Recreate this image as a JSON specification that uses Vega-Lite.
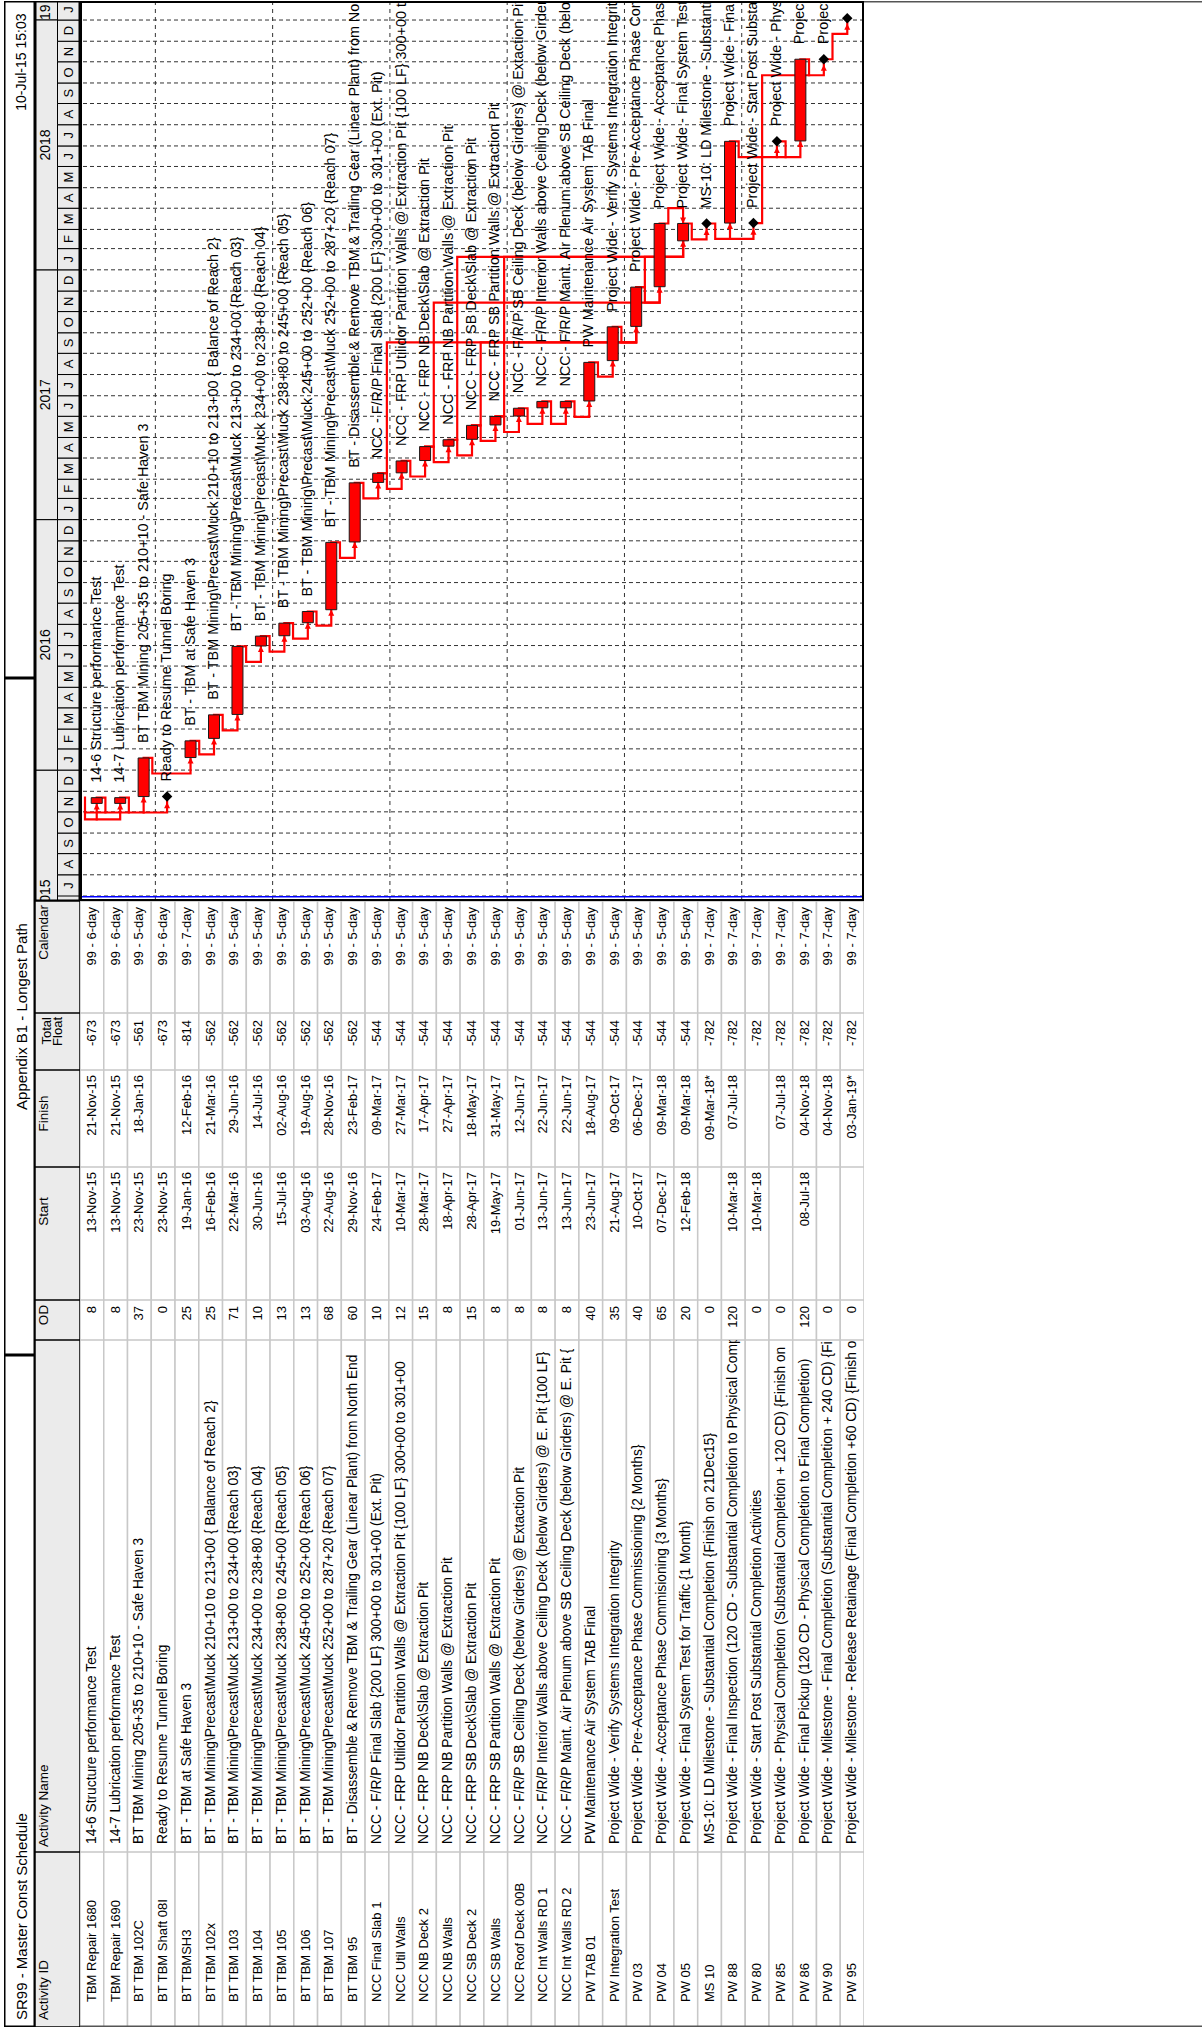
{
  "$schema": "https://vega.github.io/schema/vega-lite/v6.json",
  "padding": {"left": 4, "top": 1, "right": 0, "bottom": 0},
  "background": "white",
  "spacing": 0,
  "config": {"view": {"stroke": null}, "font": "Liberation Sans", "concat": {"spacing": 0}},
  "datasets": {
    "acts": [
      {"n":1,"id":"TBM Repair 1680","name":"14-6 Structure performance Test","od":8,"st":"13-Nov-15","fi":"21-Nov-15","tf":-673,"cal":"99 - 6-day","s":"2015-11-13T08:00","f":"2015-11-21T17:00"},
      {"n":2,"id":"TBM Repair 1690","name":"14-7 Lubrication performance Test","od":8,"st":"13-Nov-15","fi":"21-Nov-15","tf":-673,"cal":"99 - 6-day","s":"2015-11-13T08:00","f":"2015-11-21T17:00"},
      {"n":3,"id":"BT TBM 102C","name":"BT TBM Mining 205+35 to 210+10 - Safe Haven 3","od":37,"st":"23-Nov-15","fi":"18-Jan-16","tf":-561,"cal":"99 - 5-day","s":"2015-11-23T08:00","f":"2016-01-18T17:00"},
      {"n":4,"id":"BT TBM Shaft 08I","name":"Ready to Resume Tunnel Boring","od":0,"st":"23-Nov-15","fi":"","tf":-673,"cal":"99 - 6-day","s":"2015-11-23T08:00","f":null},
      {"n":5,"id":"BT TBMSH3","name":"BT - TBM at Safe Haven 3","od":25,"st":"19-Jan-16","fi":"12-Feb-16","tf":-814,"cal":"99 - 7-day","s":"2016-01-19T08:00","f":"2016-02-12T17:00"},
      {"n":6,"id":"BT TBM 102x","name":"BT - TBM Mining\\Precast\\Muck 210+10 to 213+00 { Balance of Reach 2}","od":25,"st":"16-Feb-16","fi":"21-Mar-16","tf":-562,"cal":"99 - 5-day","s":"2016-02-16T08:00","f":"2016-03-21T17:00"},
      {"n":7,"id":"BT TBM 103","name":"BT - TBM Mining\\Precast\\Muck  213+00 to 234+00 {Reach 03}","od":71,"st":"22-Mar-16","fi":"29-Jun-16","tf":-562,"cal":"99 - 5-day","s":"2016-03-22T08:00","f":"2016-06-29T17:00"},
      {"n":8,"id":"BT TBM 104","name":"BT - TBM Mining\\Precast\\Muck 234+00 to 238+80   {Reach 04}","od":10,"st":"30-Jun-16","fi":"14-Jul-16","tf":-562,"cal":"99 - 5-day","s":"2016-06-30T08:00","f":"2016-07-14T17:00"},
      {"n":9,"id":"BT TBM 105","name":"BT - TBM Mining\\Precast\\Muck 238+80 to 245+00  {Reach 05}","od":13,"st":"15-Jul-16","fi":"02-Aug-16","tf":-562,"cal":"99 - 5-day","s":"2016-07-15T08:00","f":"2016-08-02T17:00"},
      {"n":10,"id":"BT TBM 106","name":"BT - TBM Mining\\Precast\\Muck  245+00 to 252+00  {Reach 06}","od":13,"st":"03-Aug-16","fi":"19-Aug-16","tf":-562,"cal":"99 - 5-day","s":"2016-08-03T08:00","f":"2016-08-19T17:00"},
      {"n":11,"id":"BT TBM 107","name":"BT - TBM Mining\\Precast\\Muck  252+00 to 287+20  {Reach 07}","od":68,"st":"22-Aug-16","fi":"28-Nov-16","tf":-562,"cal":"99 - 5-day","s":"2016-08-22T08:00","f":"2016-11-28T17:00"},
      {"n":12,"id":"BT TBM 95","name":"BT - Disassemble & Remove TBM & Trailing Gear (Linear Plant) from North End","od":60,"st":"29-Nov-16","fi":"23-Feb-17","tf":-562,"cal":"99 - 5-day","s":"2016-11-29T08:00","f":"2017-02-23T17:00"},
      {"n":13,"id":"NCC Final Slab 1","name":"NCC - F/R/P Final Slab  {200 LF}  300+00 to 301+00 (Ext. Pit)","od":10,"st":"24-Feb-17","fi":"09-Mar-17","tf":-544,"cal":"99 - 5-day","s":"2017-02-24T08:00","f":"2017-03-09T17:00"},
      {"n":14,"id":"NCC Util Walls","name":"NCC - FRP Utilidor Partition Walls @ Extraction Pit  {100 LF} 300+00 to 301+00","od":12,"st":"10-Mar-17","fi":"27-Mar-17","tf":-544,"cal":"99 - 5-day","s":"2017-03-10T08:00","f":"2017-03-27T17:00"},
      {"n":15,"id":"NCC NB Deck 2","name":"NCC - FRP NB Deck\\Slab @ Extraction Pit","od":15,"st":"28-Mar-17","fi":"17-Apr-17","tf":-544,"cal":"99 - 5-day","s":"2017-03-28T08:00","f":"2017-04-17T17:00"},
      {"n":16,"id":"NCC NB Walls","name":"NCC - FRP NB Partition Walls @ Extraction Pit","od":8,"st":"18-Apr-17","fi":"27-Apr-17","tf":-544,"cal":"99 - 5-day","s":"2017-04-18T08:00","f":"2017-04-27T17:00"},
      {"n":17,"id":"NCC SB Deck 2","name":"NCC - FRP SB Deck\\Slab @ Extraction Pit","od":15,"st":"28-Apr-17","fi":"18-May-17","tf":-544,"cal":"99 - 5-day","s":"2017-04-28T08:00","f":"2017-05-18T17:00"},
      {"n":18,"id":"NCC SB Walls","name":"NCC - FRP SB Partition Walls @ Extraction Pit","od":8,"st":"19-May-17","fi":"31-May-17","tf":-544,"cal":"99 - 5-day","s":"2017-05-19T08:00","f":"2017-05-31T17:00"},
      {"n":19,"id":"NCC Roof Deck 00B","name":"NCC - F/R/P  SB Ceiling Deck (below Girders)  @ Extaction Pit","od":8,"st":"01-Jun-17","fi":"12-Jun-17","tf":-544,"cal":"99 - 5-day","s":"2017-06-01T08:00","f":"2017-06-12T17:00"},
      {"n":20,"id":"NCC Int Walls RD 1","name":"NCC - F/R/P  Interior Walls  above Ceiling Deck (below Girders) @ E. Pit  {100 LF}","od":8,"st":"13-Jun-17","fi":"22-Jun-17","tf":-544,"cal":"99 - 5-day","s":"2017-06-13T08:00","f":"2017-06-22T17:00"},
      {"n":21,"id":"NCC Int Walls RD 2","name":"NCC - F/R/P  Maint. Air Plenum  above SB Ceiling Deck (below Girders) @ E. Pit  {","od":8,"st":"13-Jun-17","fi":"22-Jun-17","tf":-544,"cal":"99 - 5-day","s":"2017-06-13T08:00","f":"2017-06-22T17:00"},
      {"n":22,"id":"PW TAB 01","name":"PW Maintenance Air System TAB Final","od":40,"st":"23-Jun-17","fi":"18-Aug-17","tf":-544,"cal":"99 - 5-day","s":"2017-06-23T08:00","f":"2017-08-18T17:00"},
      {"n":23,"id":"PW Integration Test","name":"Project Wide - Verify Systems Integration Integrity","od":35,"st":"21-Aug-17","fi":"09-Oct-17","tf":-544,"cal":"99 - 5-day","s":"2017-08-21T08:00","f":"2017-10-09T17:00"},
      {"n":24,"id":"PW 03","name":"Project Wide - Pre-Acceptance Phase Commissioning  {2 Months}","od":40,"st":"10-Oct-17","fi":"06-Dec-17","tf":-544,"cal":"99 - 5-day","s":"2017-10-10T08:00","f":"2017-12-06T17:00"},
      {"n":25,"id":"PW 04","name":"Project Wide - Acceptance Phase Commisioning  {3 Months}","od":65,"st":"07-Dec-17","fi":"09-Mar-18","tf":-544,"cal":"99 - 5-day","s":"2017-12-07T08:00","f":"2018-03-09T17:00"},
      {"n":26,"id":"PW 05","name":"Project Wide - Final System Test for Traffic  {1 Month}","od":20,"st":"12-Feb-18","fi":"09-Mar-18","tf":-544,"cal":"99 - 5-day","s":"2018-02-12T08:00","f":"2018-03-09T17:00"},
      {"n":27,"id":"MS 10","name":"MS-10:  LD Milestone - Substantial Completion  {Finish on 21Dec15}","od":0,"st":"","fi":"09-Mar-18*","tf":-782,"cal":"99 - 7-day","s":null,"f":"2018-03-09T17:00"},
      {"n":28,"id":"PW 88","name":"Project Wide - Final Inspection  (120 CD - Substantial Completion to Physical Comp","od":120,"st":"10-Mar-18","fi":"07-Jul-18","tf":-782,"cal":"99 - 7-day","s":"2018-03-10T08:00","f":"2018-07-07T17:00"},
      {"n":29,"id":"PW 80","name":"Project Wide - Start Post Substantial Completion Activities","od":0,"st":"10-Mar-18","fi":"","tf":-782,"cal":"99 - 7-day","s":"2018-03-10T08:00","f":null},
      {"n":30,"id":"PW 85","name":"Project Wide - Physical Completion  (Substantial Completion + 120 CD)  {Finish on","od":0,"st":"","fi":"07-Jul-18","tf":-782,"cal":"99 - 7-day","s":null,"f":"2018-07-07T17:00"},
      {"n":31,"id":"PW 86","name":"Project Wide - Final Pickup (120 CD - Physical Completion to Final Completion)","od":120,"st":"08-Jul-18","fi":"04-Nov-18","tf":-782,"cal":"99 - 7-day","s":"2018-07-08T08:00","f":"2018-11-04T17:00"},
      {"n":32,"id":"PW 90","name":"Project Wide - Milestone - Final Completion  (Substantial Completion + 240 CD)  {Fi","od":0,"st":"","fi":"04-Nov-18","tf":-782,"cal":"99 - 7-day","s":null,"f":"2018-11-04T17:00"},
      {"n":33,"id":"PW 95","name":"Project Wide - Milestone - Release Retainage (Final Completion +60 CD)  {Finish o","od":0,"st":"","fi":"03-Jan-19*","tf":-782,"cal":"99 - 7-day","s":null,"f":"2019-01-03T17:00"}
    ],
    "months": [
      {"m":"2015-07-01T00:00","m2":"2015-08-01T00:00","l":"J"},{"m":"2015-08-01T00:00","m2":"2015-09-01T00:00","l":"A"},{"m":"2015-09-01T00:00","m2":"2015-10-01T00:00","l":"S"},{"m":"2015-10-01T00:00","m2":"2015-11-01T00:00","l":"O"},{"m":"2015-11-01T00:00","m2":"2015-12-01T00:00","l":"N"},{"m":"2015-12-01T00:00","m2":"2016-01-01T00:00","l":"D"},
      {"m":"2016-01-01T00:00","m2":"2016-02-01T00:00","l":"J"},{"m":"2016-02-01T00:00","m2":"2016-03-01T00:00","l":"F"},{"m":"2016-03-01T00:00","m2":"2016-04-01T00:00","l":"M"},{"m":"2016-04-01T00:00","m2":"2016-05-01T00:00","l":"A"},{"m":"2016-05-01T00:00","m2":"2016-06-01T00:00","l":"M"},{"m":"2016-06-01T00:00","m2":"2016-07-01T00:00","l":"J"},{"m":"2016-07-01T00:00","m2":"2016-08-01T00:00","l":"J"},{"m":"2016-08-01T00:00","m2":"2016-09-01T00:00","l":"A"},{"m":"2016-09-01T00:00","m2":"2016-10-01T00:00","l":"S"},{"m":"2016-10-01T00:00","m2":"2016-11-01T00:00","l":"O"},{"m":"2016-11-01T00:00","m2":"2016-12-01T00:00","l":"N"},{"m":"2016-12-01T00:00","m2":"2017-01-01T00:00","l":"D"},
      {"m":"2017-01-01T00:00","m2":"2017-02-01T00:00","l":"J"},{"m":"2017-02-01T00:00","m2":"2017-03-01T00:00","l":"F"},{"m":"2017-03-01T00:00","m2":"2017-04-01T00:00","l":"M"},{"m":"2017-04-01T00:00","m2":"2017-05-01T00:00","l":"A"},{"m":"2017-05-01T00:00","m2":"2017-06-01T00:00","l":"M"},{"m":"2017-06-01T00:00","m2":"2017-07-01T00:00","l":"J"},{"m":"2017-07-01T00:00","m2":"2017-08-01T00:00","l":"J"},{"m":"2017-08-01T00:00","m2":"2017-09-01T00:00","l":"A"},{"m":"2017-09-01T00:00","m2":"2017-10-01T00:00","l":"S"},{"m":"2017-10-01T00:00","m2":"2017-11-01T00:00","l":"O"},{"m":"2017-11-01T00:00","m2":"2017-12-01T00:00","l":"N"},{"m":"2017-12-01T00:00","m2":"2018-01-01T00:00","l":"D"},
      {"m":"2018-01-01T00:00","m2":"2018-02-01T00:00","l":"J"},{"m":"2018-02-01T00:00","m2":"2018-03-01T00:00","l":"F"},{"m":"2018-03-01T00:00","m2":"2018-04-01T00:00","l":"M"},{"m":"2018-04-01T00:00","m2":"2018-05-01T00:00","l":"A"},{"m":"2018-05-01T00:00","m2":"2018-06-01T00:00","l":"M"},{"m":"2018-06-01T00:00","m2":"2018-07-01T00:00","l":"J"},{"m":"2018-07-01T00:00","m2":"2018-08-01T00:00","l":"J"},{"m":"2018-08-01T00:00","m2":"2018-09-01T00:00","l":"A"},{"m":"2018-09-01T00:00","m2":"2018-10-01T00:00","l":"S"},{"m":"2018-10-01T00:00","m2":"2018-11-01T00:00","l":"O"},{"m":"2018-11-01T00:00","m2":"2018-12-01T00:00","l":"N"},{"m":"2018-12-01T00:00","m2":"2019-01-01T00:00","l":"D"},
      {"m":"2019-01-01T00:00","m2":"2019-02-01T00:00","l":"J"}
    ],
    "years": [
      {"yr":"2015-01-01T00:00","yr2":"2016-01-01T00:00","t":"2015"},
      {"yr":"2016-01-01T00:00","yr2":"2017-01-01T00:00","t":"2016"},
      {"yr":"2017-01-01T00:00","yr2":"2018-01-01T00:00","t":"2017"},
      {"yr":"2018-01-01T00:00","yr2":"2019-01-01T00:00","t":"2018"},
      {"yr":"2019-01-01T00:00","yr2":"2020-01-01T00:00","t":"2019"}
    ],
    "sight": [{"b":3.5},{"b":8.5},{"b":13.5},{"b":18.5},{"b":23.5},{"b":28.5}],
    "links": [
      {"k":"L1","o":0,"r":0.5,"d":"2015-11-21T17:00"},{"k":"L1","o":1,"r":0.5,"d":"2015-10-21T00:00"},{"k":"L1","o":2,"r":2,"d":"2015-10-21T00:00"},{"k":"L1","o":3,"r":2,"d":"2015-11-13T08:00"},
      {"k":"L2","o":0,"r":1,"d":"2015-10-21T00:00"},{"k":"L2","o":1,"r":1,"d":"2015-11-13T08:00"},
      {"k":"L3","o":0,"r":0.5,"d":"2015-10-31T00:00"},{"k":"L3","o":1,"r":4,"d":"2015-10-31T00:00"},{"k":"L3","o":2,"r":4,"d":"2015-11-23T08:00"},
      {"k":"L4","o":0,"r":1,"d":"2015-11-21T17:00"},{"k":"L4","o":1,"r":1.37,"d":"2015-11-21T17:00"},{"k":"L4","o":2,"r":1.37,"d":"2015-10-31T00:00"},
      {"k":"L5","o":0,"r":2,"d":"2015-11-21T17:00"},{"k":"L5","o":1,"r":2.37,"d":"2015-11-21T17:00"},{"k":"L5","o":2,"r":2.37,"d":"2015-10-31T00:00"},
      {"k":"L6","o":0,"r":3,"d":"2015-10-31T00:00"},{"k":"L6","o":1,"r":3,"d":"2015-11-23T08:00"},
      {"k":"L7","o":0,"r":3,"d":"2016-01-18T17:00"},{"k":"L7","o":1,"r":3.37,"d":"2016-01-18T17:00"},{"k":"L7","o":2,"r":3.37,"d":"2015-12-27T00:00"},{"k":"L7","o":3,"r":5,"d":"2015-12-27T00:00"},{"k":"L7","o":4,"r":5,"d":"2016-01-19T08:00"},
      {"k":"L8","o":0,"r":5,"d":"2016-02-12T17:00"},{"k":"L8","o":1,"r":5.37,"d":"2016-02-12T17:00"},{"k":"L8","o":2,"r":5.37,"d":"2016-01-24T00:00"},{"k":"L8","o":3,"r":6,"d":"2016-01-24T00:00"},{"k":"L8","o":4,"r":6,"d":"2016-02-16T08:00"},
      {"k":"L9","o":0,"r":6,"d":"2016-03-21T17:00"},{"k":"L9","o":1,"r":6.37,"d":"2016-03-21T17:00"},{"k":"L9","o":2,"r":6.37,"d":"2016-02-28T00:00"},{"k":"L9","o":3,"r":7,"d":"2016-02-28T00:00"},{"k":"L9","o":4,"r":7,"d":"2016-03-22T08:00"},
      {"k":"L10","o":0,"r":7,"d":"2016-06-29T17:00"},{"k":"L10","o":1,"r":7.37,"d":"2016-06-29T17:00"},{"k":"L10","o":2,"r":7.37,"d":"2016-06-07T00:00"},{"k":"L10","o":3,"r":8,"d":"2016-06-07T00:00"},{"k":"L10","o":4,"r":8,"d":"2016-06-30T08:00"},
      {"k":"L11","o":0,"r":8,"d":"2016-07-14T17:00"},{"k":"L11","o":1,"r":8.37,"d":"2016-07-14T17:00"},{"k":"L11","o":2,"r":8.37,"d":"2016-06-22T00:00"},{"k":"L11","o":3,"r":9,"d":"2016-06-22T00:00"},{"k":"L11","o":4,"r":9,"d":"2016-07-15T08:00"},
      {"k":"L12","o":0,"r":9,"d":"2016-08-02T17:00"},{"k":"L12","o":1,"r":9.37,"d":"2016-08-02T17:00"},{"k":"L12","o":2,"r":9.37,"d":"2016-07-11T00:00"},{"k":"L12","o":3,"r":10,"d":"2016-07-11T00:00"},{"k":"L12","o":4,"r":10,"d":"2016-08-03T08:00"},
      {"k":"L13","o":0,"r":10,"d":"2016-08-19T17:00"},{"k":"L13","o":1,"r":10.37,"d":"2016-08-19T17:00"},{"k":"L13","o":2,"r":10.37,"d":"2016-07-30T00:00"},{"k":"L13","o":3,"r":11,"d":"2016-07-30T00:00"},{"k":"L13","o":4,"r":11,"d":"2016-08-22T08:00"},
      {"k":"L14","o":0,"r":11,"d":"2016-11-28T17:00"},{"k":"L14","o":1,"r":11.37,"d":"2016-11-28T17:00"},{"k":"L14","o":2,"r":11.37,"d":"2016-11-06T00:00"},{"k":"L14","o":3,"r":12,"d":"2016-11-06T00:00"},{"k":"L14","o":4,"r":12,"d":"2016-11-29T08:00"},
      {"k":"L15","o":0,"r":12,"d":"2017-02-23T17:00"},{"k":"L15","o":1,"r":12.37,"d":"2017-02-23T17:00"},{"k":"L15","o":2,"r":12.37,"d":"2017-02-01T00:00"},{"k":"L15","o":3,"r":13,"d":"2017-02-01T00:00"},{"k":"L15","o":4,"r":13,"d":"2017-02-24T08:00"},
      {"k":"L16","o":0,"r":13,"d":"2017-03-09T17:00"},{"k":"L16","o":1,"r":13.37,"d":"2017-03-09T17:00"},{"k":"L16","o":2,"r":13.37,"d":"2017-02-15T00:00"},{"k":"L16","o":3,"r":14,"d":"2017-02-15T00:00"},{"k":"L16","o":4,"r":14,"d":"2017-03-10T08:00"},
      {"k":"L17","o":0,"r":14,"d":"2017-03-27T17:00"},{"k":"L17","o":1,"r":14.37,"d":"2017-03-27T17:00"},{"k":"L17","o":2,"r":14.37,"d":"2017-03-05T00:00"},{"k":"L17","o":3,"r":15,"d":"2017-03-05T00:00"},{"k":"L17","o":4,"r":15,"d":"2017-03-28T08:00"},
      {"k":"L18","o":0,"r":15,"d":"2017-04-17T17:00"},{"k":"L18","o":1,"r":15.37,"d":"2017-04-17T17:00"},{"k":"L18","o":2,"r":15.37,"d":"2017-03-26T00:00"},{"k":"L18","o":3,"r":16,"d":"2017-03-26T00:00"},{"k":"L18","o":4,"r":16,"d":"2017-04-18T08:00"},
      {"k":"L19","o":0,"r":16,"d":"2017-04-27T17:00"},{"k":"L19","o":1,"r":16.37,"d":"2017-04-27T17:00"},{"k":"L19","o":2,"r":16.37,"d":"2017-04-05T00:00"},{"k":"L19","o":3,"r":17,"d":"2017-04-05T00:00"},{"k":"L19","o":4,"r":17,"d":"2017-04-28T08:00"},
      {"k":"L20","o":0,"r":17,"d":"2017-05-18T17:00"},{"k":"L20","o":1,"r":17.37,"d":"2017-05-18T17:00"},{"k":"L20","o":2,"r":17.37,"d":"2017-04-26T00:00"},{"k":"L20","o":3,"r":18,"d":"2017-04-26T00:00"},{"k":"L20","o":4,"r":18,"d":"2017-05-19T08:00"},
      {"k":"L21","o":0,"r":18,"d":"2017-05-31T17:00"},{"k":"L21","o":1,"r":18.37,"d":"2017-05-31T17:00"},{"k":"L21","o":2,"r":18.37,"d":"2017-05-09T00:00"},{"k":"L21","o":3,"r":19,"d":"2017-05-09T00:00"},{"k":"L21","o":4,"r":19,"d":"2017-06-01T08:00"},
      {"k":"L22","o":0,"r":19,"d":"2017-06-12T17:00"},{"k":"L22","o":1,"r":19.37,"d":"2017-06-12T17:00"},{"k":"L22","o":2,"r":19.37,"d":"2017-05-21T00:00"},{"k":"L22","o":3,"r":20,"d":"2017-05-21T00:00"},{"k":"L22","o":4,"r":20,"d":"2017-06-13T08:00"},
      {"k":"L23","o":0,"r":20,"d":"2017-06-22T17:00"},{"k":"L23","o":1,"r":20.37,"d":"2017-06-22T17:00"},{"k":"L23","o":2,"r":20.37,"d":"2017-05-21T00:00"},{"k":"L23","o":3,"r":21,"d":"2017-05-21T00:00"},{"k":"L23","o":4,"r":21,"d":"2017-06-13T08:00"},
      {"k":"L24","o":0,"r":21,"d":"2017-06-22T17:00"},{"k":"L24","o":1,"r":21.37,"d":"2017-06-22T17:00"},{"k":"L24","o":2,"r":21.37,"d":"2017-05-31T00:00"},{"k":"L24","o":3,"r":22,"d":"2017-05-31T00:00"},{"k":"L24","o":4,"r":22,"d":"2017-06-23T08:00"},
      {"k":"L25","o":0,"r":22,"d":"2017-08-18T17:00"},{"k":"L25","o":1,"r":22.37,"d":"2017-08-18T17:00"},{"k":"L25","o":2,"r":22.37,"d":"2017-07-29T00:00"},{"k":"L25","o":3,"r":23,"d":"2017-07-29T00:00"},{"k":"L25","o":4,"r":23,"d":"2017-08-21T08:00"},
      {"k":"L26","o":0,"r":23,"d":"2017-10-09T17:00"},{"k":"L26","o":1,"r":23.37,"d":"2017-10-09T17:00"},{"k":"L26","o":2,"r":23.37,"d":"2017-09-17T00:00"},{"k":"L26","o":3,"r":24,"d":"2017-09-17T00:00"},{"k":"L26","o":4,"r":24,"d":"2017-10-10T08:00"},
      {"k":"L27","o":0,"r":24,"d":"2017-12-06T17:00"},{"k":"L27","o":1,"r":24.37,"d":"2017-12-06T17:00"},{"k":"L27","o":2,"r":24.37,"d":"2017-11-14T00:00"},{"k":"L27","o":3,"r":25,"d":"2017-11-14T00:00"},{"k":"L27","o":4,"r":25,"d":"2017-12-07T08:00"},
      {"k":"L28","o":0,"r":24,"d":"2017-12-06T17:00"},{"k":"L28","o":1,"r":24.37,"d":"2017-12-06T17:00"},{"k":"L28","o":2,"r":24.37,"d":"2018-01-20T00:00"},{"k":"L28","o":3,"r":26,"d":"2018-01-20T00:00"},{"k":"L28","o":4,"r":26,"d":"2018-02-12T08:00"},
      {"k":"L29","o":0,"r":25,"d":"2018-03-09T17:00"},{"k":"L29","o":1,"r":25.37,"d":"2018-03-09T17:00"},{"k":"L29","o":2,"r":25.37,"d":"2018-04-01T00:00"},{"k":"L29","o":3,"r":26,"d":"2018-04-01T00:00"},{"k":"L29","o":4,"r":26,"d":"2018-03-09T17:00"},
      {"k":"L30","o":0,"r":26,"d":"2018-03-09T17:00"},{"k":"L30","o":1,"r":26.37,"d":"2018-03-09T17:00"},{"k":"L30","o":2,"r":26.37,"d":"2018-02-14T08:00"},{"k":"L30","o":3,"r":27,"d":"2018-02-14T08:00"},{"k":"L30","o":4,"r":27,"d":"2018-03-09T17:00"},
      {"k":"L31","o":0,"r":27,"d":"2018-03-09T17:00"},{"k":"L31","o":1,"r":27.37,"d":"2018-03-09T17:00"},{"k":"L31","o":2,"r":27.37,"d":"2018-02-15T08:00"},{"k":"L31","o":3,"r":29,"d":"2018-02-15T08:00"},{"k":"L31","o":4,"r":29,"d":"2018-03-10T08:00"},
      {"k":"L32","o":0,"r":28,"d":"2018-02-15T08:00"},{"k":"L32","o":1,"r":28,"d":"2018-03-10T08:00"},
      {"k":"L33","o":0,"r":28,"d":"2018-07-07T17:00"},{"k":"L33","o":1,"r":28.37,"d":"2018-07-07T17:00"},{"k":"L33","o":2,"r":28.37,"d":"2018-06-14T17:00"},{"k":"L33","o":3,"r":31,"d":"2018-06-14T17:00"},{"k":"L33","o":4,"r":31,"d":"2018-07-08T08:00"},
      {"k":"L34","o":0,"r":30,"d":"2018-06-14T17:00"},{"k":"L34","o":1,"r":30,"d":"2018-07-07T17:00"},
      {"k":"L35","o":0,"r":30,"d":"2018-07-07T17:00"},{"k":"L35","o":1,"r":30.37,"d":"2018-07-07T17:00"},{"k":"L35","o":2,"r":30.37,"d":"2018-06-14T17:00"},
      {"k":"L36","o":0,"r":29,"d":"2018-03-10T08:00"},{"k":"L36","o":1,"r":29.37,"d":"2018-03-10T08:00"},{"k":"L36","o":2,"r":29.37,"d":"2018-10-12T08:00"},{"k":"L36","o":3,"r":32,"d":"2018-10-12T08:00"},{"k":"L36","o":4,"r":32,"d":"2018-11-04T17:00"},
      {"k":"L37","o":0,"r":31,"d":"2018-11-04T17:00"},{"k":"L37","o":1,"r":31.37,"d":"2018-11-04T17:00"},{"k":"L37","o":2,"r":31.37,"d":"2018-10-12T08:00"},
      {"k":"L38","o":0,"r":32,"d":"2018-11-04T17:00"},{"k":"L38","o":1,"r":32.37,"d":"2018-11-04T17:00"},{"k":"L38","o":2,"r":32.37,"d":"2018-12-11T17:00"},{"k":"L38","o":3,"r":33,"d":"2018-12-11T17:00"},{"k":"L38","o":4,"r":33,"d":"2019-01-03T17:00"},
      {"k":"L39","o":0,"r":13,"d":"2017-03-09T17:00"},{"k":"L39","o":1,"r":13.37,"d":"2017-03-09T17:00"},{"k":"L39","o":2,"r":13.37,"d":"2017-09-17T00:00"},{"k":"L39","o":3,"r":24,"d":"2017-09-17T00:00"},{"k":"L39","o":4,"r":24,"d":"2017-10-10T08:00"},
      {"k":"L40","o":0,"r":15,"d":"2017-04-17T17:00"},{"k":"L40","o":1,"r":15.37,"d":"2017-04-17T17:00"},{"k":"L40","o":2,"r":15.37,"d":"2017-11-14T00:00"},{"k":"L40","o":3,"r":25,"d":"2017-11-14T00:00"},{"k":"L40","o":4,"r":25,"d":"2017-12-07T08:00"},
      {"k":"L41","o":0,"r":16,"d":"2017-04-27T17:00"},{"k":"L41","o":1,"r":16.37,"d":"2017-04-27T17:00"},{"k":"L41","o":2,"r":16.37,"d":"2018-01-20T00:00"},{"k":"L41","o":3,"r":26,"d":"2018-01-20T00:00"},{"k":"L41","o":4,"r":26,"d":"2018-02-12T08:00"},
      {"k":"L42","o":0,"r":17,"d":"2017-05-18T17:00"},{"k":"L42","o":1,"r":17.37,"d":"2017-05-18T17:00"},{"k":"L42","o":2,"r":17.37,"d":"2017-09-17T00:00"},{"k":"L42","o":3,"r":24,"d":"2017-09-17T00:00"},{"k":"L42","o":4,"r":24,"d":"2017-10-10T08:00"},
      {"k":"L43","o":0,"r":18,"d":"2017-05-31T17:00"},{"k":"L43","o":1,"r":18.37,"d":"2017-05-31T17:00"},{"k":"L43","o":2,"r":18.37,"d":"2018-01-20T00:00"},{"k":"L43","o":3,"r":26,"d":"2018-01-20T00:00"},{"k":"L43","o":4,"r":26,"d":"2018-02-12T08:00"}
    ]
  },
  "hconcat": [
    {
      "spacing": 0,
      "vconcat": [
        {"width": 31, "height": 677, "data": {"values": [{"t": "10-Jul-15 15:03"}]},
         "layer": [
           {"mark": {"type": "rect", "fill": "white", "stroke": "#000", "strokeWidth": 3, "clip": true},
            "encoding": {"x": {"value": 0}, "x2": {"value": "width"}, "y": {"value": 0}, "y2": {"value": "height"}}},
           {"mark": {"type": "text", "angle": 270, "align": "right", "baseline": "middle", "dx": 326, "dy": 2.5, "fontSize": 14, "clip": true},
            "encoding": {"text": {"field": "t", "type": "nominal"}}}
         ]},
        {"width": 31, "height": 677, "data": {"values": [{"t": "Appendix B1 - Longest Path"}]},
         "layer": [
           {"mark": {"type": "rect", "fill": "white", "stroke": "#000", "strokeWidth": 3, "clip": true},
            "encoding": {"x": {"value": 0}, "x2": {"value": "width"}, "y": {"value": 0}, "y2": {"value": "height"}}},
           {"mark": {"type": "text", "angle": 270, "align": "center", "baseline": "middle", "dy": 2.5, "fontSize": 15, "clip": true},
            "encoding": {"text": {"field": "t", "type": "nominal"}}}
         ]},
        {"width": 31, "height": 672, "data": {"values": [{"t": "SR99 - Master Const Schedule"}]},
         "layer": [
           {"mark": {"type": "rect", "fill": "white", "stroke": "#000", "strokeWidth": 3, "clip": true},
            "encoding": {"x": {"value": 0}, "x2": {"value": "width"}, "y": {"value": 0}, "y2": {"value": "height"}}},
           {"mark": {"type": "text", "angle": 270, "align": "left", "baseline": "middle", "dx": -329, "dy": 2.5, "fontSize": 15, "clip": true},
            "encoding": {"text": {"field": "t", "type": "nominal"}}}
         ]}
      ]
    },
    {
      "spacing": 0,
      "vconcat": [
        {
          "width": 45, "height": 900,
          "layer": [
            {"data": {"values": [{}]},
             "mark": {"type": "rect", "fill": "#ebebeb", "clip": true},
             "encoding": {"x": {"value": 0}, "x2": {"value": "width"}, "y": {"value": 0}, "y2": {"value": "height"}}},
            {"data": {"name": "years"}, "transform": [{"filter": "datum.t == '2019'"}],
             "mark": {"type": "rect", "fill": "#ebebeb", "stroke": "#000", "strokeWidth": 1, "clip": true},
             "encoding": {
               "x": {"datum": "Y", "type": "nominal", "scale": {"domain": ["Y", "M"], "paddingInner": 0, "paddingOuter": 0}, "axis": null},
               "y": {"field": "yr", "type": "temporal", "scale": {"domain": [{"year": 2015, "month": 6, "date": 23, "hours": 17}, {"year": 2019, "month": 1, "date": 28, "hours": 19}], "nice": false}, "axis": null},
               "y2": {"field": "yr2"}}},
            {"data": {"name": "years"}, "transform": [{"filter": "datum.t == '2019'"}],
             "mark": {"type": "text", "angle": 270, "align": "center", "baseline": "middle", "fontSize": 14, "clip": true},
             "encoding": {
               "x": {"datum": "Y", "type": "nominal"},
               "y": {"field": "yr", "type": "temporal"},
               "text": {"field": "t", "type": "nominal"}}},
            {"data": {"name": "years"}, "transform": [{"filter": "datum.t != '2019'"}],
             "mark": {"type": "rect", "fill": "#ebebeb", "stroke": "#000", "strokeWidth": 1, "clip": true},
             "encoding": {
               "x": {"datum": "Y", "type": "nominal"},
               "y": {"field": "yr", "type": "temporal"},
               "y2": {"field": "yr2"}}},
            {"data": {"name": "years"}, "transform": [{"filter": "datum.t != '2019'"}],
             "mark": {"type": "text", "angle": 270, "align": "center", "baseline": "middle", "fontSize": 14, "clip": true},
             "encoding": {
               "x": {"datum": "Y", "type": "nominal"},
               "y": {"field": "yr", "type": "temporal", "timeUnit": "year", "bandPosition": 0.5},
               "text": {"field": "t", "type": "nominal"}}},
            {"data": {"name": "months"},
             "mark": {"type": "rect", "fill": "#ebebeb", "stroke": "#000", "strokeWidth": 1, "clip": true},
             "encoding": {
               "x": {"datum": "M", "type": "nominal"},
               "y": {"field": "m", "type": "temporal"},
               "y2": {"field": "m2"}}},
            {"data": {"name": "months"},
             "mark": {"type": "text", "angle": 270, "align": "center", "baseline": "middle", "fontSize": 13, "clip": true},
             "encoding": {
               "x": {"datum": "M", "type": "nominal"},
               "y": {"field": "m", "type": "temporal", "timeUnit": "yearmonth", "bandPosition": 0.5},
               "text": {"field": "l", "type": "nominal"}}},
            {"data": {"values": [{}]},
             "mark": {"type": "rect", "fillOpacity": 0, "stroke": "#000", "strokeWidth": 3, "clip": true},
             "encoding": {"x": {"value": 0}, "x2": {"value": "width"}, "y": {"value": 0}, "y2": {"value": "height"}}}
          ]
        },
        {"width": 45, "height": 112, "data": {"values": [{"t": "Calendar"}]},
         "layer": [
           {"mark": {"type": "rect", "fill": "#ebebeb", "stroke": "#000", "strokeWidth": 1.5, "clip": true},
            "encoding": {"x": {"value": 0}, "x2": {"value": "width"}, "y": {"value": 0}, "y2": {"value": "height"}}},
           {"mark": {"type": "text", "angle": 270, "align": "right", "baseline": "middle", "dx": 52, "dy": -14, "fontSize": 13.5, "clip": true},
            "encoding": {"text": {"field": "t", "type": "nominal"}}}
         ]},
        {"width": 45, "height": 57, "data": {"values": [{"t": "Total\nFloat"}]},
         "layer": [
           {"mark": {"type": "rect", "fill": "#ebebeb", "stroke": "#000", "strokeWidth": 1.5, "clip": true},
            "encoding": {"x": {"value": 0}, "x2": {"value": "width"}, "y": {"value": 0}, "y2": {"value": "height"}}},
           {"mark": {"type": "text", "angle": 270, "align": "right", "baseline": "middle", "dx": 24.5, "dy": -11, "fontSize": 13, "lineBreak": "\n", "lineHeight": 11, "clip": true},
            "encoding": {"text": {"field": "t", "type": "nominal"}}}
         ]},
        {"width": 45, "height": 97, "data": {"values": [{"t": "Finish"}]},
         "layer": [
           {"mark": {"type": "rect", "fill": "#ebebeb", "stroke": "#000", "strokeWidth": 1.5, "clip": true},
            "encoding": {"x": {"value": 0}, "x2": {"value": "width"}, "y": {"value": 0}, "y2": {"value": "height"}}},
           {"mark": {"type": "text", "angle": 270, "align": "center", "baseline": "middle", "dx": 5, "dy": -14, "fontSize": 13.5, "clip": true},
            "encoding": {"text": {"field": "t", "type": "nominal"}}}
         ]},
        {"width": 45, "height": 133, "data": {"values": [{"t": "Start"}]},
         "layer": [
           {"mark": {"type": "rect", "fill": "#ebebeb", "stroke": "#000", "strokeWidth": 1.5, "clip": true},
            "encoding": {"x": {"value": 0}, "x2": {"value": "width"}, "y": {"value": 0}, "y2": {"value": "height"}}},
           {"mark": {"type": "text", "angle": 270, "align": "center", "baseline": "middle", "dx": 22, "dy": -14, "fontSize": 13.5, "clip": true},
            "encoding": {"text": {"field": "t", "type": "nominal"}}}
         ]},
        {"width": 45, "height": 40, "data": {"values": [{"t": "OD"}]},
         "layer": [
           {"mark": {"type": "rect", "fill": "#ebebeb", "stroke": "#000", "strokeWidth": 1.5, "clip": true},
            "encoding": {"x": {"value": 0}, "x2": {"value": "width"}, "y": {"value": 0}, "y2": {"value": "height"}}},
           {"mark": {"type": "text", "angle": 270, "align": "center", "baseline": "middle", "dx": 5, "dy": -14, "fontSize": 13.5, "clip": true},
            "encoding": {"text": {"field": "t", "type": "nominal"}}}
         ]},
        {"width": 45, "height": 512, "data": {"values": [{"t": "Activity Name"}]},
         "layer": [
           {"mark": {"type": "rect", "fill": "#ebebeb", "stroke": "#000", "strokeWidth": 1.5, "clip": true},
            "encoding": {"x": {"value": 0}, "x2": {"value": "width"}, "y": {"value": 0}, "y2": {"value": "height"}}},
           {"mark": {"type": "text", "angle": 270, "align": "left", "baseline": "middle", "dx": -251, "dy": -14, "fontSize": 13.5, "clip": true},
            "encoding": {"text": {"field": "t", "type": "nominal"}}}
         ]},
        {"width": 45, "height": 175, "data": {"values": [{"t": "Activity ID"}]},
         "layer": [
           {"mark": {"type": "rect", "fill": "#ebebeb", "stroke": "#000", "strokeWidth": 1.5, "clip": true},
            "encoding": {"x": {"value": 0}, "x2": {"value": "width"}, "y": {"value": 0}, "y2": {"value": "height"}}},
           {"mark": {"type": "text", "angle": 270, "align": "left", "baseline": "middle", "dx": -80.5, "dy": -14, "fontSize": 13.5, "clip": true},
            "encoding": {"text": {"field": "t", "type": "nominal"}}}
         ]}
      ]
    },
    {
      "spacing": 0,
      "vconcat": [
        {
          "width": 784, "height": 900,
          "layer": [
            {"data": {"name": "months"},
             "mark": {"type": "rule", "strokeDash": [4, 3], "color": "#333", "strokeWidth": 1, "clip": true},
             "encoding": {"y": {"field": "m", "type": "temporal", "scale": {"domain": [{"year": 2015, "month": 6, "date": 23, "hours": 17}, {"year": 2019, "month": 1, "date": 28, "hours": 19}], "nice": false}, "axis": null}}},
            {"data": {"name": "sight"},
             "mark": {"type": "rule", "strokeDash": [4, 4], "color": "#333", "strokeWidth": 1, "clip": true},
             "encoding": {"x": {"field": "b", "type": "quantitative", "scale": {"domain": [0.5, 33.5], "nice": false, "zero": false}, "axis": null}}},
            {"data": {"values": [{"dd": "2015-06-30T00:00"}]},
             "mark": {"type": "rule", "color": "#0000ff", "strokeWidth": 1.5, "clip": true},
             "encoding": {"y": {"field": "dd", "type": "temporal"}}},
            {"data": {"name": "links"},
             "mark": {"type": "line", "color": "#ff0000", "strokeWidth": 2.2, "strokeCap": "square", "strokeJoin": "miter", "clip": true},
             "encoding": {
               "x": {"field": "r", "type": "quantitative"},
               "y": {"field": "d", "type": "temporal"},
               "detail": {"field": "k", "type": "nominal"},
               "order": {"field": "o", "type": "quantitative"}}},
            {"data": {"name": "acts"}, "transform": [{"filter": "datum.od > 0"}],
             "mark": {"type": "point", "shape": "M0,0L-0.75,1.5L0.75,1.5Z", "size": 64, "filled": true, "color": "#ff0000", "opacity": 1, "clip": true},
             "encoding": {"x": {"field": "n", "type": "quantitative"}, "y": {"field": "s", "type": "temporal"}}},
            {"data": {"name": "acts"}, "transform": [{"filter": "datum.od == 0 && datum.s != null"}],
             "mark": {"type": "point", "shape": "M0,1.4L-0.75,2.9L0.75,2.9Z", "size": 64, "filled": true, "color": "#ff0000", "opacity": 1, "clip": true},
             "encoding": {"x": {"field": "n", "type": "quantitative"}, "y": {"field": "s", "type": "temporal"}}},
            {"data": {"name": "acts"}, "transform": [{"filter": "datum.od == 0 && datum.f != null"}],
             "mark": {"type": "point", "shape": "M0,1.4L-0.75,2.9L0.75,2.9Z", "size": 64, "filled": true, "color": "#ff0000", "opacity": 1, "clip": true},
             "encoding": {"x": {"field": "n", "type": "quantitative"}, "y": {"field": "f", "type": "temporal"}}},
            {"data": {"name": "acts"}, "transform": [{"filter": "datum.id == 'PW 05'"}],
             "mark": {"type": "point", "shape": "M0,0L-0.75,-1.5L0.75,-1.5Z", "size": 64, "filled": true, "color": "#ff0000", "opacity": 1, "clip": true},
             "encoding": {"x": {"field": "n", "type": "quantitative"}, "y": {"field": "f", "type": "temporal"}}},
            {"data": {"name": "acts"}, "transform": [{"filter": "datum.od > 0"}],
             "mark": {"type": "bar", "width": 11, "fill": "#ff0000", "stroke": "#1a1a1a", "strokeWidth": 1, "clip": true},
             "encoding": {"x": {"field": "n", "type": "quantitative"}, "y": {"field": "s", "type": "temporal"}, "y2": {"field": "f"}}},
            {"data": {"name": "acts"}, "transform": [{"filter": "datum.od == 0 && datum.s != null"}],
             "mark": {"type": "point", "shape": "diamond", "size": 110, "filled": true, "color": "#000", "opacity": 1, "clip": true},
             "encoding": {"x": {"field": "n", "type": "quantitative"}, "y": {"field": "s", "type": "temporal"}}},
            {"data": {"name": "acts"}, "transform": [{"filter": "datum.od == 0 && datum.f != null"}],
             "mark": {"type": "point", "shape": "diamond", "size": 110, "filled": true, "color": "#000", "opacity": 1, "clip": true},
             "encoding": {"x": {"field": "n", "type": "quantitative"}, "y": {"field": "f", "type": "temporal"}}},
            {"data": {"name": "acts"}, "transform": [{"filter": "datum.f != null"}],
             "mark": {"type": "text", "angle": 270, "align": "left", "baseline": "middle", "dx": 15, "fontSize": 14.4, "clip": true, "color": "#000"},
             "encoding": {"x": {"field": "n", "type": "quantitative"}, "y": {"field": "f", "type": "temporal"}, "text": {"field": "name", "type": "nominal"}}},
            {"data": {"name": "acts"}, "transform": [{"filter": "datum.f == null"}],
             "mark": {"type": "text", "angle": 270, "align": "left", "baseline": "middle", "dx": 15, "fontSize": 14.4, "clip": true, "color": "#000"},
             "encoding": {"x": {"field": "n", "type": "quantitative"}, "y": {"field": "s", "type": "temporal"}, "text": {"field": "name", "type": "nominal"}}},
            {"data": {"values": [{}]},
             "mark": {"type": "rect", "fillOpacity": 0, "stroke": "#000", "strokeWidth": 4, "clip": true},
             "encoding": {"x": {"value": 0}, "x2": {"value": "width"}, "y": {"value": 0}, "y2": {"value": "height"}}}
          ]
        },
        {"width": 784, "height": 112, "data": {"name": "acts"},
         "layer": [
           {"mark": {"type": "rect", "fill": "white", "stroke": "#c8c8c8", "strokeWidth": 1.5, "clip": true},
            "encoding": {"x": {"field": "n", "type": "ordinal", "scale": {"paddingInner": 0, "paddingOuter": 0}, "axis": null}}},
           {"mark": {"type": "text", "angle": 270, "align": "right", "baseline": "middle", "dx": 50, "fontSize": 13, "clip": true},
            "encoding": {"x": {"field": "n", "type": "ordinal"}, "text": {"field": "cal", "type": "nominal"}}}
         ]},
        {"width": 784, "height": 57, "data": {"name": "acts"},
         "layer": [
           {"mark": {"type": "rect", "fill": "white", "stroke": "#c8c8c8", "strokeWidth": 1.5, "clip": true},
            "encoding": {"x": {"field": "n", "type": "ordinal", "scale": {"paddingInner": 0, "paddingOuter": 0}, "axis": null}}},
           {"mark": {"type": "text", "angle": 270, "align": "right", "baseline": "middle", "dx": 21.5, "fontSize": 13, "clip": true},
            "encoding": {"x": {"field": "n", "type": "ordinal"}, "text": {"field": "tf", "type": "nominal"}}}
         ]},
        {"width": 784, "height": 97, "data": {"name": "acts"},
         "layer": [
           {"mark": {"type": "rect", "fill": "white", "stroke": "#c8c8c8", "strokeWidth": 1.5, "clip": true},
            "encoding": {"x": {"field": "n", "type": "ordinal", "scale": {"paddingInner": 0, "paddingOuter": 0}, "axis": null}}},
           {"mark": {"type": "text", "angle": 270, "align": "right", "baseline": "middle", "dx": 43.5, "fontSize": 13, "clip": true},
            "encoding": {"x": {"field": "n", "type": "ordinal"}, "text": {"field": "fi", "type": "nominal"}}}
         ]},
        {"width": 784, "height": 133, "data": {"name": "acts"},
         "layer": [
           {"mark": {"type": "rect", "fill": "white", "stroke": "#c8c8c8", "strokeWidth": 1.5, "clip": true},
            "encoding": {"x": {"field": "n", "type": "ordinal", "scale": {"paddingInner": 0, "paddingOuter": 0}, "axis": null}}},
           {"mark": {"type": "text", "angle": 270, "align": "right", "baseline": "middle", "dx": 61.5, "fontSize": 13, "clip": true},
            "encoding": {"x": {"field": "n", "type": "ordinal"}, "text": {"field": "st", "type": "nominal"}}}
         ]},
        {"width": 784, "height": 40, "data": {"name": "acts"},
         "layer": [
           {"mark": {"type": "rect", "fill": "white", "stroke": "#c8c8c8", "strokeWidth": 1.5, "clip": true},
            "encoding": {"x": {"field": "n", "type": "ordinal", "scale": {"paddingInner": 0, "paddingOuter": 0}, "axis": null}}},
           {"mark": {"type": "text", "angle": 270, "align": "right", "baseline": "middle", "dx": 14, "fontSize": 13, "clip": true},
            "encoding": {"x": {"field": "n", "type": "ordinal"}, "text": {"field": "od", "type": "nominal"}}}
         ]},
        {"width": 784, "height": 512, "data": {"name": "acts"},
         "layer": [
           {"mark": {"type": "rect", "fill": "white", "stroke": "#c8c8c8", "strokeWidth": 1.5, "clip": true},
            "encoding": {"x": {"field": "n", "type": "ordinal", "scale": {"paddingInner": 0, "paddingOuter": 0}, "axis": null}}},
           {"mark": {"type": "text", "angle": 270, "align": "left", "baseline": "middle", "dx": -248, "fontSize": 13.8, "clip": true},
            "encoding": {"x": {"field": "n", "type": "ordinal"}, "text": {"field": "name", "type": "nominal"}}}
         ]},
        {"width": 784, "height": 175, "data": {"name": "acts"},
         "layer": [
           {"mark": {"type": "rect", "fill": "white", "stroke": "#c8c8c8", "strokeWidth": 1.5, "clip": true},
            "encoding": {"x": {"field": "n", "type": "ordinal", "scale": {"paddingInner": 0, "paddingOuter": 0}, "axis": null}}},
           {"mark": {"type": "text", "angle": 270, "align": "left", "baseline": "middle", "dx": -62.5, "fontSize": 13, "clip": true},
            "encoding": {"x": {"field": "n", "type": "ordinal"}, "text": {"field": "id", "type": "nominal"}}},
           {"data": {"values": [{}]},
            "mark": {"type": "rule", "color": "#555", "strokeWidth": 3, "clip": true},
            "encoding": {"y": {"value": "height"}}}
         ]}
      ]
    },
    {
      "width": 338, "height": 2026,
      "data": {"values": [{"p": 0}, {"p": 1}]},
      "mark": {"type": "rule", "color": "#555", "strokeWidth": 3, "clip": true},
      "encoding": {"y": {"field": "p", "type": "quantitative", "scale": {"domain": [0, 1], "nice": false}, "axis": null}}
    }
  ]
}
